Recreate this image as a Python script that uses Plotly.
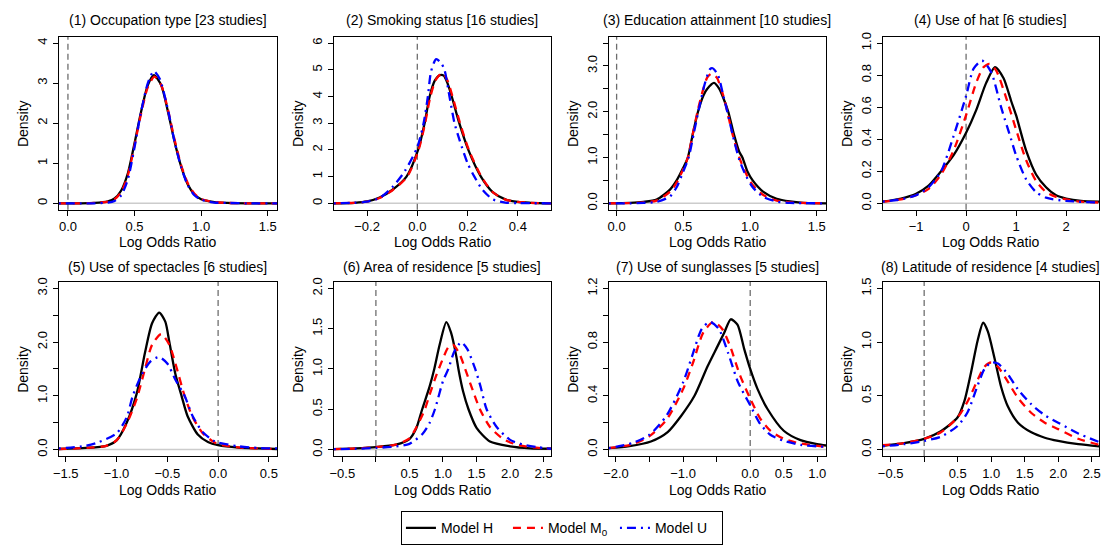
import plotly.graph_objects as go

# ---------------- posterior densities: (log odds ratio, density) ----------------
occ_H = [(-0.07, 0.0), (0.1, 0.0), (0.2, 0.01), (0.3, 0.05), (0.35, 0.12), (0.4, 0.32), (0.45, 0.75),
         (0.5, 1.5), (0.55, 2.3), (0.6, 2.95), (0.645, 3.2), (0.7, 2.95), (0.75, 2.3), (0.8, 1.55),
         (0.85, 0.92), (0.9, 0.47), (0.95, 0.22), (1.0, 0.1), (1.1, 0.03), (1.2, 0.01), (1.35, 0.0), (1.57, 0.0)]
occ_M0 = [(-0.07, 0.0), (0.1, 0.0), (0.2, 0.01), (0.3, 0.04), (0.35, 0.1), (0.4, 0.28), (0.45, 0.7),
          (0.5, 1.45), (0.55, 2.25), (0.6, 2.9), (0.65, 3.16), (0.7, 2.95), (0.75, 2.35), (0.8, 1.6),
          (0.85, 0.95), (0.9, 0.5), (0.95, 0.24), (1.0, 0.11), (1.1, 0.03), (1.2, 0.01), (1.35, 0.0), (1.57, 0.0)]
occ_U = [(-0.07, 0.0), (0.1, 0.0), (0.2, 0.0), (0.3, 0.02), (0.35, 0.06), (0.4, 0.2), (0.45, 0.6),
         (0.5, 1.4), (0.55, 2.3), (0.6, 3.0), (0.645, 3.3), (0.69, 3.1), (0.75, 2.35), (0.8, 1.55),
         (0.85, 0.9), (0.9, 0.45), (0.95, 0.2), (1.0, 0.09), (1.1, 0.02), (1.2, 0.01), (1.35, 0.0), (1.57, 0.0)]

smk_H = [(-0.333, 0.0), (-0.25, 0.02), (-0.2, 0.07), (-0.15, 0.22), (-0.1, 0.5), (-0.043, 1.0), (0.003, 2.0),
         (0.029, 3.0), (0.049, 4.0), (0.07, 4.6), (0.09, 4.8), (0.105, 4.78), (0.12, 4.5), (0.137, 4.0),
         (0.167, 3.0), (0.203, 2.0), (0.253, 1.0), (0.3, 0.42), (0.35, 0.15), (0.4, 0.05), (0.45, 0.02), (0.532, 0.0)]
smk_M0 = [(-0.333, 0.0), (-0.25, 0.02), (-0.2, 0.06), (-0.15, 0.2), (-0.1, 0.48), (-0.04, 1.0), (0.005, 2.0),
          (0.031, 3.0), (0.052, 4.0), (0.075, 4.65), (0.1, 4.88), (0.12, 4.6), (0.14, 4.0), (0.17, 3.0),
          (0.205, 2.0), (0.255, 1.0), (0.3, 0.42), (0.35, 0.14), (0.4, 0.05), (0.45, 0.02), (0.532, 0.0)]
smk_U = [(-0.333, 0.0), (-0.25, 0.02), (-0.2, 0.06), (-0.15, 0.2), (-0.1, 0.6), (-0.05, 1.2), (0.0, 2.1),
         (0.025, 3.0), (0.042, 4.0), (0.055, 4.95), (0.075, 5.4), (0.095, 5.25), (0.108, 5.0), (0.128, 4.0),
         (0.148, 3.0), (0.167, 2.4), (0.2, 1.5), (0.227, 1.0), (0.26, 0.5), (0.3, 0.15), (0.35, 0.03),
         (0.4, 0.01), (0.532, 0.0)]

edu_H = [(-0.06, 0.0), (0.1, 0.01), (0.2, 0.03), (0.3, 0.08), (0.4, 0.3), (0.45, 0.5), (0.5, 0.78),
         (0.534, 1.0), (0.57, 1.5), (0.61, 2.0), (0.65, 2.35), (0.68, 2.5), (0.73, 2.63), (0.77, 2.5),
         (0.8, 2.3), (0.837, 2.0), (0.88, 1.5), (0.92, 1.12), (0.943, 1.0), (0.98, 0.7), (1.02, 0.5),
         (1.1, 0.25), (1.2, 0.1), (1.3, 0.04), (1.4, 0.01), (1.57, 0.0)]
edu_M0 = [(-0.06, 0.0), (0.1, 0.005), (0.2, 0.02), (0.3, 0.06), (0.4, 0.25), (0.45, 0.45), (0.5, 0.75),
          (0.534, 1.0), (0.57, 1.5), (0.61, 2.05), (0.65, 2.5), (0.68, 2.75), (0.71, 2.83), (0.75, 2.75),
          (0.8, 2.35), (0.83, 2.0), (0.87, 1.5), (0.92, 1.0), (0.97, 0.65), (1.02, 0.4), (1.1, 0.18),
          (1.2, 0.06), (1.3, 0.02), (1.57, 0.0)]
edu_U = [(-0.06, 0.0), (0.1, 0.0), (0.2, 0.01), (0.3, 0.03), (0.4, 0.15), (0.45, 0.35), (0.5, 0.7),
         (0.54, 1.0), (0.58, 1.55), (0.62, 2.1), (0.66, 2.6), (0.7, 2.93), (0.72, 2.95), (0.76, 2.8),
         (0.8, 2.35), (0.83, 2.0), (0.87, 1.5), (0.92, 0.95), (0.97, 0.6), (1.02, 0.35), (1.1, 0.14),
         (1.2, 0.04), (1.3, 0.01), (1.57, 0.0)]

hat_H = [(-1.67, 0.01), (-1.3, 0.03), (-1.0, 0.06), (-0.75, 0.11), (-0.5, 0.2), (-0.25, 0.3), (0.0, 0.44),
         (0.2, 0.58), (0.4, 0.75), (0.58, 0.85), (0.75, 0.78), (0.9, 0.64), (1.0, 0.55), (1.2, 0.33),
         (1.4, 0.18), (1.6, 0.1), (1.8, 0.05), (2.0, 0.03), (2.3, 0.015), (2.66, 0.01)]
hat_M0 = [(-1.67, 0.01), (-1.3, 0.025), (-1.0, 0.05), (-0.75, 0.09), (-0.5, 0.18), (-0.25, 0.33), (0.0, 0.55),
          (0.2, 0.75), (0.35, 0.85), (0.47, 0.87), (0.6, 0.83), (0.8, 0.66), (1.0, 0.46), (1.2, 0.27),
          (1.4, 0.14), (1.6, 0.07), (1.8, 0.04), (2.0, 0.025), (2.3, 0.01), (2.66, 0.005)]
hat_U = [(-1.67, 0.01), (-1.3, 0.025), (-1.0, 0.05), (-0.75, 0.1), (-0.5, 0.2), (-0.25, 0.42), (0.0, 0.67),
         (0.15, 0.84), (0.32, 0.89), (0.5, 0.82), (0.7, 0.6), (0.9, 0.4), (1.0, 0.3), (1.2, 0.15),
         (1.4, 0.07), (1.6, 0.035), (2.0, 0.015), (2.66, 0.005)]

spc_H = [(-1.57, 0.01), (-1.3, 0.03), (-1.1, 0.07), (-1.0, 0.17), (-0.9, 0.5), (-0.8, 1.05), (-0.72, 1.8),
         (-0.65, 2.35), (-0.58, 2.55), (-0.52, 2.38), (-0.48, 2.0), (-0.42, 1.4), (-0.36, 1.0), (-0.3, 0.62),
         (-0.2, 0.28), (-0.1, 0.14), (0.0, 0.08), (0.2, 0.035), (0.4, 0.02), (0.58, 0.01)]
spc_M0 = [(-1.57, 0.01), (-1.3, 0.03), (-1.1, 0.07), (-1.0, 0.17), (-0.9, 0.48), (-0.8, 0.95), (-0.72, 1.5),
          (-0.65, 1.95), (-0.56, 2.15), (-0.48, 1.95), (-0.42, 1.6), (-0.33, 1.0), (-0.25, 0.6), (-0.15, 0.3),
          (-0.05, 0.15), (0.0, 0.1), (0.2, 0.04), (0.4, 0.02), (0.58, 0.01)]
spc_U = [(-1.57, 0.02), (-1.3, 0.07), (-1.2, 0.12), (-1.0, 0.3), (-0.9, 0.6), (-0.84, 1.0), (-0.75, 1.4),
         (-0.66, 1.65), (-0.58, 1.72), (-0.5, 1.6), (-0.42, 1.3), (-0.33, 1.0), (-0.25, 0.62), (-0.15, 0.32),
         (-0.05, 0.17), (0.0, 0.13), (0.2, 0.06), (0.4, 0.03), (0.58, 0.02)]

area_H = [(-0.63, 0.005), (-0.3, 0.015), (0.0, 0.03), (0.3, 0.06), (0.5, 0.13), (0.6, 0.26), (0.69, 0.5),
          (0.8, 0.78), (0.87, 1.0), (0.95, 1.3), (1.05, 1.58), (1.12, 1.45), (1.2, 1.15), (1.23, 1.0),
          (1.3, 0.72), (1.38, 0.5), (1.5, 0.27), (1.7, 0.1), (2.0, 0.04), (2.3, 0.015), (2.61, 0.01)]
area_M0 = [(-0.63, 0.005), (-0.3, 0.015), (0.0, 0.03), (0.3, 0.06), (0.5, 0.14), (0.6, 0.27), (0.73, 0.5),
           (0.8, 0.68), (0.9, 0.92), (1.0, 1.13), (1.08, 1.27), (1.15, 1.3), (1.25, 1.18), (1.33, 1.0),
           (1.45, 0.72), (1.55, 0.5), (1.7, 0.28), (1.9, 0.13), (2.1, 0.06), (2.3, 0.03), (2.61, 0.01)]
area_U = [(-0.63, 0.005), (-0.3, 0.01), (0.0, 0.02), (0.3, 0.04), (0.5, 0.07), (0.7, 0.2), (0.8, 0.33),
          (0.88, 0.5), (1.0, 0.85), (1.08, 1.0), (1.17, 1.22), (1.27, 1.33), (1.36, 1.25), (1.48, 1.0),
          (1.56, 0.78), (1.65, 0.5), (1.8, 0.28), (2.0, 0.12), (2.2, 0.06), (2.4, 0.03), (2.61, 0.01)]

sun_H = [(-2.11, 0.01), (-1.8, 0.025), (-1.48, 0.06), (-1.23, 0.13), (-1.03, 0.25), (-0.83, 0.4),
         (-0.635, 0.62), (-0.486, 0.77), (-0.387, 0.87), (-0.29, 0.97), (-0.19, 0.93), (-0.09, 0.75),
         (0.0, 0.6), (0.11, 0.45), (0.26, 0.3), (0.5, 0.14), (0.75, 0.07), (1.0, 0.04), (1.13, 0.03)]
sun_M0 = [(-2.11, 0.01), (-1.75, 0.04), (-1.5, 0.1), (-1.25, 0.22), (-1.0, 0.45), (-0.85, 0.65), (-0.7, 0.87),
          (-0.55, 0.95), (-0.42, 0.9), (-0.3, 0.77), (-0.15, 0.55), (0.0, 0.38), (0.15, 0.23), (0.3, 0.14),
          (0.5, 0.08), (0.75, 0.045), (1.13, 0.02)]
sun_U = [(-2.11, 0.01), (-1.75, 0.05), (-1.5, 0.11), (-1.25, 0.25), (-1.0, 0.5), (-0.85, 0.72), (-0.72, 0.9),
         (-0.6, 0.95), (-0.47, 0.9), (-0.33, 0.72), (-0.18, 0.5), (0.0, 0.33), (0.15, 0.19), (0.3, 0.11),
         (0.5, 0.065), (0.75, 0.035), (1.13, 0.02)]

lat_H = [(-0.62, 0.035), (-0.3, 0.06), (0.0, 0.1), (0.25, 0.17), (0.5, 0.3), (0.6, 0.45), (0.7, 0.72),
         (0.8, 1.02), (0.88, 1.18), (0.95, 1.1), (1.05, 0.85), (1.15, 0.58), (1.25, 0.4), (1.4, 0.25),
         (1.6, 0.16), (1.8, 0.11), (2.0, 0.08), (2.3, 0.05), (2.61, 0.03)]
lat_M0 = [(-0.62, 0.04), (-0.3, 0.06), (0.0, 0.1), (0.25, 0.16), (0.5, 0.3), (0.65, 0.45), (0.8, 0.65),
          (0.9, 0.77), (1.0, 0.81), (1.1, 0.77), (1.25, 0.63), (1.4, 0.48), (1.6, 0.34), (1.8, 0.25),
          (2.0, 0.19), (2.3, 0.1), (2.61, 0.045)]
lat_U = [(-0.62, 0.03), (-0.3, 0.05), (0.0, 0.08), (0.25, 0.12), (0.5, 0.22), (0.65, 0.35), (0.8, 0.6),
         (0.9, 0.75), (1.0, 0.81), (1.1, 0.8), (1.25, 0.7), (1.4, 0.56), (1.6, 0.42), (1.8, 0.32),
         (2.0, 0.25), (2.3, 0.15), (2.61, 0.07)]

# ---------------- panel titles and axes ----------------
panel_titles = ["(1) Occupation type [23 studies]", "(2) Smoking status [16 studies]",
                "(3) Education attainment [10 studies]", "(4) Use of hat [6 studies]",
                "(5) Use of spectacles [6 studies]", "(6) Area of residence [5 studies]",
                "(7) Use of sunglasses [5 studies]", "(8) Latitude of residence [4 studies]"]
curves = [(occ_H, occ_M0, occ_U), (smk_H, smk_M0, smk_U), (edu_H, edu_M0, edu_U), (hat_H, hat_M0, hat_U),
          (spc_H, spc_M0, spc_U), (area_H, area_M0, area_U), (sun_H, sun_M0, sun_U), (lat_H, lat_M0, lat_U)]
model_names = ["Model H", "Model M<sub>0</sub>", "Model U"]

x_limits = [(-0.07, 1.57), (-0.333, 0.532), (-0.06, 1.57), (-1.67, 2.66),
            (-1.57, 0.58), (-0.63, 2.61), (-2.11, 1.13), (-0.62, 2.61)]
y_tops = [4, 6, 3.5, 1.0, 3.0, 2.0, 1.2, 1.5]

# tick positions; an empty label marks a tick drawn without text
x_tickvals = [[0, 0.5, 1.0, 1.5], [-0.2, 0.0, 0.2, 0.4], [0, 0.5, 1.0, 1.5], [-1, 0, 1, 2],
              [-1.5, -1.0, -0.5, 0.0, 0.5], [-0.5, 0, 0.5, 1, 1.5, 2, 2.5],
              [-2, -1.5, -1, -0.5, 0, 0.5, 1], [-0.5, 0, 0.5, 1, 1.5, 2, 2.5]]
x_ticktext = [["0.0", "0.5", "1.0", "1.5"], ["\u22120.2", "0.0", "0.2", "0.4"], ["0.0", "0.5", "1.0", "1.5"],
              ["\u22121", "0", "1", "2"], ["\u22121.5", "\u22121.0", "\u22120.5", "0.0", "0.5"],
              ["\u22120.5", "", "0.5", "1.0", "1.5", "2.0", "2.5"],
              ["\u22122.0", "", "\u22121.0", "", "0.0", "0.5", "1.0"],
              ["\u22120.5", "", "0.5", "1.0", "1.5", "2.0", "2.5"]]
y_tickvals = [[0, 1, 2, 3, 4], [0, 1, 2, 3, 4, 5, 6], [0, 0.5, 1, 1.5, 2, 2.5, 3, 3.5],
              [0, 0.2, 0.4, 0.6, 0.8, 1.0], [0, 0.5, 1, 1.5, 2, 2.5, 3], [0, 0.5, 1, 1.5, 2],
              [0, 0.2, 0.4, 0.6, 0.8, 1.0, 1.2], [0, 0.5, 1, 1.5]]
y_ticktext = [["0", "1", "2", "3", "4"], ["0", "1", "2", "3", "4", "5", "6"],
              ["0.0", "", "1.0", "", "2.0", "", "3.0", ""], ["0.0", "0.2", "0.4", "0.6", "0.8", "1.0"],
              ["0.0", "", "1.0", "", "2.0", "", "3.0"], ["0.0", "0.5", "1.0", "1.5", "2.0"],
              ["0.0", "", "0.4", "", "0.8", "", "1.2"], ["0.0", "0.5", "1.0", "1.5"]]

# ---------------- layout geometry (pixels) ----------------
W, H = 1107, 546
col_px = [(53, 273), (330, 549), (607, 826), (883, 1101)]
row_px = [(32, 207), (280, 456)]
title_y_px = [15, 265]
xlabel_y_px = [240, 490]
legend_center_px = (560, 529)
FONT = "Liberation Sans, Arial, Helvetica, sans-serif"
TEXT_SIZE = 14
TICK_SIZE = 13
TICK_LEN = 5

styles = [dict(color="black", width=2.3, dash="solid"),
          dict(color="#ff0000", width=2.3, dash="8px,6px"),
          dict(color="#0000ff", width=2.3, dash="2px,5px,9px,5px")]


def split_ticks(vals, texts):
    """Labelled ticks become major ticks, unlabelled ones become minor ticks."""
    major = [(v, t) for v, t in zip(vals, texts) if t]
    minor = [v for v, t in zip(vals, texts) if not t]
    return [v for v, _ in major], [t for _, t in major], minor


def minor_spec(vals):
    if not vals:
        return dict(ticks="")
    return dict(tickmode="array", tickvals=vals, ticks="outside", ticklen=TICK_LEN,
                tickwidth=1, tickcolor="black", showgrid=False)


fig = go.Figure()
annotations = []
shapes = []
layout_axes = {}

for i in range(8):
    r, c = divmod(i, 4)
    x0p, x1p = col_px[c]
    y0p, y1p = row_px[r]
    xa = "x" if i == 0 else f"x{i + 1}"
    ya = "y" if i == 0 else f"y{i + 1}"
    xkey = "xaxis" if i == 0 else f"xaxis{i + 1}"
    ykey = "yaxis" if i == 0 else f"yaxis{i + 1}"
    top = y_tops[i]
    common = dict(showline=True, mirror=True, linecolor="black", linewidth=1, ticks="outside",
                  ticklen=TICK_LEN, tickwidth=1, tickcolor="black", showgrid=False, zeroline=False,
                  tickfont=dict(family=FONT, size=TICK_SIZE, color="black"), fixedrange=True)

    xv, xt, xm = split_ticks(x_tickvals[i], x_ticktext[i])
    yv, yt, ym = split_ticks(y_tickvals[i], y_ticktext[i])

    layout_axes[xkey] = dict(domain=[x0p / W, x1p / W], anchor=ya, range=list(x_limits[i]),
                             tickmode="array", tickvals=xv, ticktext=xt, minor=minor_spec(xm), **common)
    layout_axes[ykey] = dict(domain=[1 - y1p / H, 1 - y0p / H], anchor=xa,
                             range=[-0.04 * top, 1.04 * top], tickangle=-90,
                             tickmode="array", tickvals=yv, ticktext=yt, minor=minor_spec(ym), **common)

    # reference lines: density zero and log odds ratio zero
    shapes.append(dict(type="line", xref=f"{xa} domain", yref=ya, x0=0, x1=1, y0=0, y1=0,
                       line=dict(color="#cccccc", width=1.6), layer="below"))
    shapes.append(dict(type="line", xref=xa, yref=f"{ya} domain", x0=0, x1=0, y0=0, y1=1,
                       line=dict(color="#6e6e6e", width=1.3, dash="6px,4px"), layer="below"))

    for k, pts in enumerate(curves[i]):
        fig.add_trace(go.Scatter(
            x=[p[0] for p in pts], y=[p[1] for p in pts], xaxis=xa, yaxis=ya, mode="lines",
            line=dict(shape="spline", smoothing=0.7, **styles[k]),
            name=model_names[k], legendgroup=model_names[k], showlegend=(i == 0),
            hoverinfo="skip"))

    cx = (x0p + x1p) / 2 / W
    label_font = dict(family=FONT, size=TEXT_SIZE, color="black")
    annotations.append(dict(text=panel_titles[i], x=cx, y=1 - title_y_px[r] / H, xref="paper", yref="paper",
                            xanchor="center", yanchor="middle", showarrow=False, font=label_font))
    annotations.append(dict(text="Log Odds Ratio", x=cx, y=1 - xlabel_y_px[r] / H, xref="paper", yref="paper",
                            xanchor="center", yanchor="middle", showarrow=False, font=label_font))
    annotations.append(dict(text="Density", x=(x0p - 36) / W, y=1 - (y0p + y1p) / 2 / H, xref="paper",
                            yref="paper", xanchor="center", yanchor="middle", textangle=-90, showarrow=False,
                            font=label_font))

fig.update_layout(
    width=W, height=H, margin=dict(l=0, r=0, t=0, b=0),
    paper_bgcolor="white", plot_bgcolor="white",
    annotations=annotations, shapes=shapes,
    legend=dict(orientation="h", x=legend_center_px[0] / W, xanchor="center",
                y=1 - legend_center_px[1] / H, yanchor="middle",
                bordercolor="black", borderwidth=1, bgcolor="white",
                font=dict(family=FONT, size=14, color="black"),
                entrywidth=62, entrywidthmode="pixels", itemwidth=30),
    **layout_axes,
)

fig.write_html("out.html")
